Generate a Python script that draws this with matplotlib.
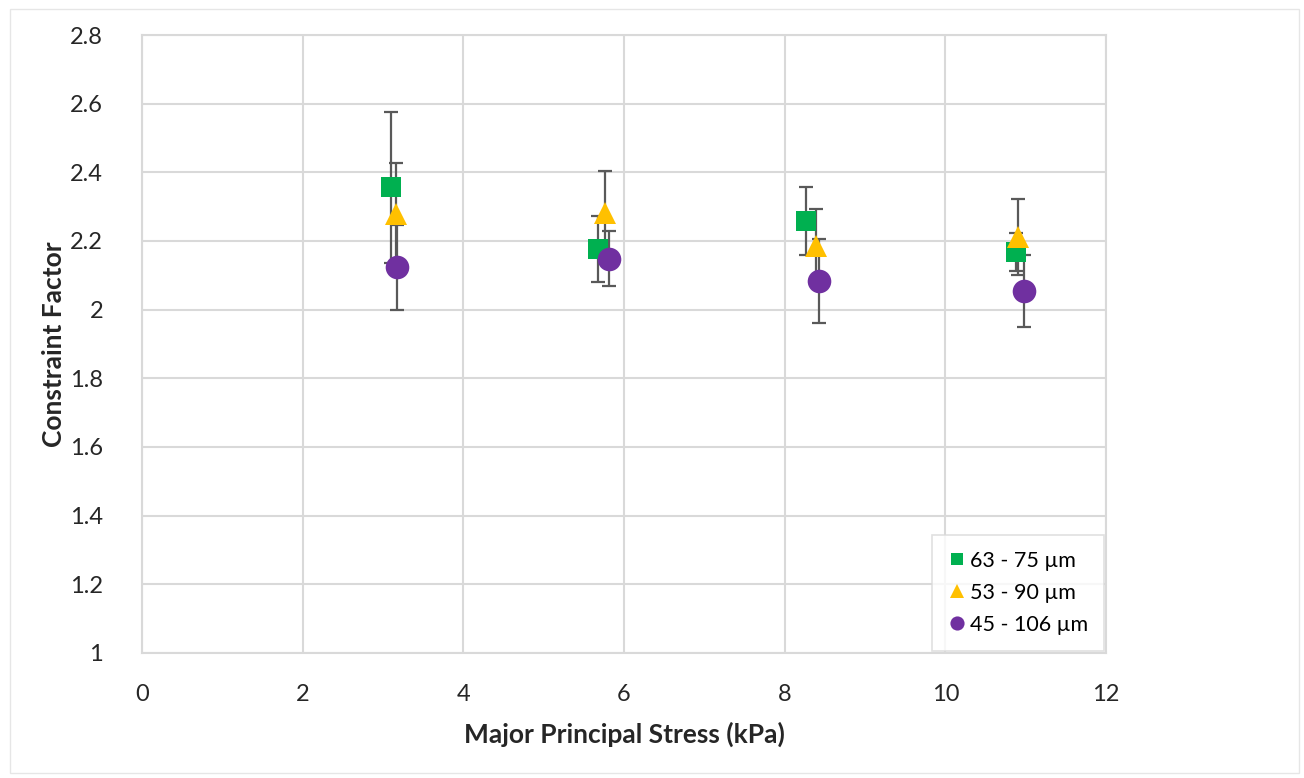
"""Constraint factor vs major principal stress, three particle size fractions."""

import matplotlib
matplotlib.use("Agg")
import matplotlib.pyplot as plt
from matplotlib.patches import Rectangle

plt.rcParams["font.family"] = ["Lato", "DejaVu Sans"]

# 63 - 75 um
stress_63 = [3.10, 5.68, 8.27, 10.88]
cf_63 = [2.357, 2.177, 2.258, 2.168]
err_63 = [0.22, 0.095, 0.10, 0.055]

# 53 - 90 um
stress_53 = [3.16, 5.76, 8.39, 10.90]
cf_53 = [2.279, 2.282, 2.186, 2.212]
err_53 = [0.148, 0.122, 0.107, 0.11]

# 45 - 106 um
stress_45 = [3.17, 5.81, 8.43, 10.98]
cf_45 = [2.124, 2.148, 2.084, 2.054]
err_45 = [0.124, 0.08, 0.123, 0.105]

x_ticks = [0, 2, 4, 6, 8, 10, 12]
y_ticks = [1, 1.2, 1.4, 1.6, 1.8, 2, 2.2, 2.4, 2.6, 2.8]
y_tick_labels = ["1", "1.2", "1.4", "1.6", "1.8", "2", "2.2", "2.4", "2.6", "2.8"]

series = [
    (stress_63, cf_63, err_63, "s", 15, "#00B050", "63 - 75 µm"),
    (stress_53, cf_53, err_53, "^", 16, "#FFC000", "53 - 90 µm"),
    (stress_45, cf_45, err_45, "o", 17, "#7030A0", "45 - 106 µm"),
]

fig = plt.figure(figsize=(13.04, 7.78), dpi=100)
ax = fig.add_axes([0.1089, 0.1607, 0.7393, 0.7943])

# faint outer chart border
fig.patches.append(Rectangle((0.008, 0.006), 0.988, 0.982, transform=fig.transFigure,
                             fill=False, edgecolor="#E6E6E6", linewidth=1.0))

for xs, ys, es, mk, ms, col, lab in series:
    ax.errorbar(xs, ys, yerr=es, fmt="none", ecolor="#595959", elinewidth=1.6,
                capsize=5, capthick=1.6, zorder=3)
    ax.plot(xs, ys, linestyle="none", marker=mk, markersize=ms, color=col,
            markeredgewidth=0, label=lab, zorder=4)

ax.set_xlim(0, 12)
ax.set_ylim(1, 2.8)
ax.set_xticks(x_ticks)
ax.set_yticks(y_ticks)
ax.set_yticklabels(y_tick_labels)
ax.tick_params(length=0, labelsize=17, colors="#262626")
ax.tick_params(axis="y", pad=28)
ax.tick_params(axis="x", pad=22)
ax.grid(True, color="#D9D9D9", linewidth=1.5)
ax.set_axisbelow(True)
for sp in ax.spines.values():
    sp.set_color("#D9D9D9")
    sp.set_linewidth(1.5)

ax.set_xlabel("Major Principal Stress (kPa)", fontsize=19, fontweight="bold",
              color="#262626", labelpad=12)
ax.set_ylabel("Constraint Factor", fontsize=19, fontweight="bold",
              color="#262626", labelpad=3)

leg = ax.legend(loc="lower right", fontsize=15.5, frameon=True, fancybox=False,
                borderaxespad=0.1, handletextpad=0.2, handlelength=0.8,
                markerscale=0.6, borderpad=0.75, labelspacing=0.55)
leg.get_frame().set_edgecolor("#D9D9D9")
leg.get_frame().set_linewidth(1.2)

fig.savefig("out.png", dpi=100, facecolor="white")
plt.close(fig)
